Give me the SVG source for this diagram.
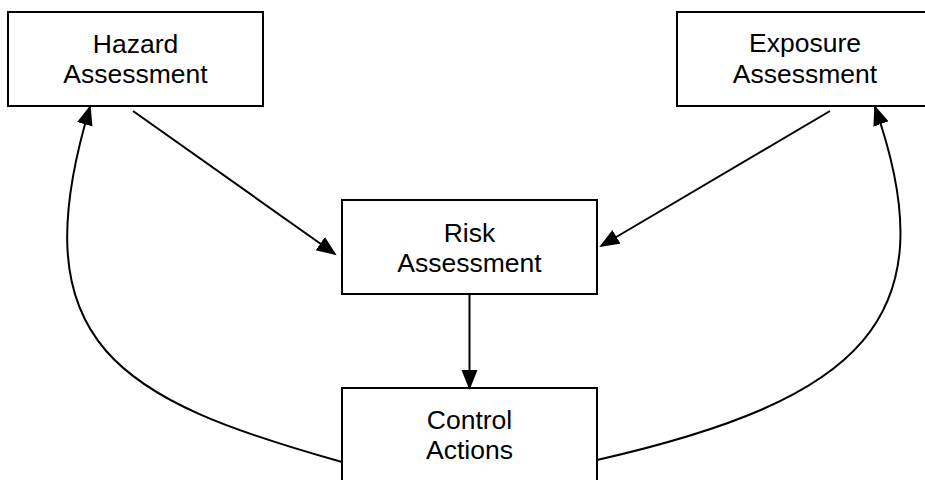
<svg xmlns="http://www.w3.org/2000/svg" width="925" height="480" viewBox="0 0 925 480">
<style>
.box{fill:#fff;stroke:#000;stroke-width:2}
.lbl{font-family:"Liberation Sans",Arial,sans-serif;font-size:26.5px;fill:#000;text-anchor:middle}
.edge{fill:none;stroke:#000;stroke-width:2;marker-end:url(#ah)}
</style>
<defs>
<marker id="ah" markerUnits="userSpaceOnUse" markerWidth="22" markerHeight="18" refX="18" refY="8" orient="auto">
<path d="M0,0 L20,8 L0,16 z" fill="#000"/>
</marker>
</defs>
<rect width="925" height="480" fill="#fff"/>
<g id="hazard">
<rect class="box" x="8" y="12" width="255" height="94"/>
<text class="lbl" x="135.5" y="53">Hazard</text>
<text class="lbl" x="135.5" y="83">Assessment</text>
</g>
<g id="exposure">
<rect class="box" x="677" y="12" width="255" height="94"/>
<text class="lbl" x="805" y="52">Exposure</text>
<text class="lbl" x="805" y="83">Assessment</text>
</g>
<g id="risk">
<rect class="box" x="342" y="200" width="255" height="94"/>
<text class="lbl" x="469.5" y="242">Risk</text>
<text class="lbl" x="469.5" y="272">Assessment</text>
</g>
<g id="control">
<rect class="box" x="342" y="388" width="255" height="94"/>
<text class="lbl" x="469.5" y="429">Control</text>
<text class="lbl" x="469.5" y="459">Actions</text>
</g>
<g id="connectors">
<path class="edge" d="M133,111 L335,254"/>
<path class="edge" d="M830,111 L601,246"/>
<path class="edge" d="M469.5,294 L469.5,388"/>
<path class="edge" d="M342,462 C120,400 18,345 90,107"/>
<path class="edge" d="M597,460 C860,400 950,320 875,107"/>
</g>
</svg>
